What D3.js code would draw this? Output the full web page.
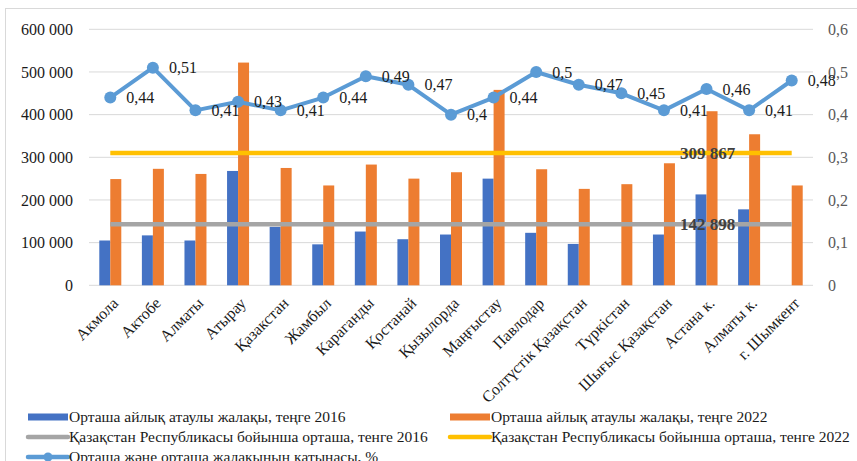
<!DOCTYPE html>
<html><head><meta charset="utf-8">
<script src="https://cdn.jsdelivr.net/npm/d3@7"></script>
<style>body{margin:0;background:#fff}svg{display:block}text{font-family:"Liberation Serif","Times New Roman",serif}</style>
</head><body><svg id="c" width="857" height="461"></svg>
<script>
const categories = ["Акмола","Актобе","Алматы","Атырау","Қазакстан","Жамбыл","Караганды","Қостанай","Қызылорда","Маңғыстау","Павлодар","Солтүстік Қазақстан","Түркістан","Шығыс Қазақстан","Астана к.","Алматы  к.","г. Шымкент"];
const wage2016 = [105000,117000,105000,268000,137000,96000,126000,108000,119000,250000,123000,97000,null,119000,213000,178000,null];
const wage2022 = [249000,273000,261000,522000,275000,234000,283000,250000,265000,458000,272000,226000,237000,286000,408000,354000,234000];
const ratio = [0.44,0.51,0.41,0.43,0.41,0.44,0.49,0.47,0.4,0.44,0.5,0.47,0.45,0.41,0.46,0.41,0.48];
const mean2016 = 142898;
const mean2022 = 309867;
const leftTicks = [0,100000,200000,300000,400000,500000,600000];
const rightTicks = [0,0.1,0.2,0.3,0.4,0.5,0.6];
const legendLabels = ["Орташа айлық атаулы жалақы, теңге 2016","Орташа айлық атаулы жалақы, теңге 2022","Қазақстан Республикасы бойынша орташа, тенге 2016","Қазақстан Республикасы бойынша орташа, тенге 2022","Орташа және орташа жалақының қатынасы, %"];

const C = {b:"#4472C4", o:"#ED7D31", g:"#A5A5A5", y:"#FFC000", l:"#5B9BD5", grid:"#D9D9D9"};
const svg = d3.select("#c");
const L = 89, R = 813, T = 29.3, B = 285.3;
const x = d3.scaleBand().domain(categories).range([L,R]).padding(0);
const bw = x.bandwidth();
const xs = d3.scaleBand().domain(["2016","2022"]).range([bw/2-11, bw/2+11]).padding(0);
const y = d3.scaleLinear().domain([0,600000]).range([B,T]);
const y2 = d3.scaleLinear().domain([0,0.6]).range([B,T]);
const loc = d3.formatLocale({decimal:",",thousands:" ",grouping:[3],currency:["",""]});
const fmtL = loc.format(",d");
const fmtR = v => v===0 ? "0" : String(+v.toFixed(2)).replace(".",",");

// border
svg.append("rect").attr("x",5.5).attr("y",8.5).attr("width",900).attr("height",600).attr("fill","none").attr("stroke","#D9D9D9");

// grid
svg.append("g").selectAll("line").data(leftTicks).join("line")
  .attr("x1",L).attr("x2",R).attr("y1",d=>y(d)).attr("y2",d=>y(d))
  .attr("stroke",C.grid).attr("stroke-width",1);

// left axis
const ga = svg.append("g").attr("transform",`translate(${L},0)`).call(d3.axisLeft(y).tickValues(leftTicks).tickFormat(fmtL).tickSize(0).tickPadding(16));
ga.select(".domain").remove();
ga.selectAll("text").attr("font-size",16).attr("fill","#1a1a1a");
// right axis
const gr = svg.append("g").attr("transform",`translate(${R},0)`).call(d3.axisRight(y2).tickValues(rightTicks).tickFormat(fmtR).tickSize(0).tickPadding(15));
gr.select(".domain").remove();
gr.selectAll("text").attr("font-size",16).attr("fill","#595959");

// bars
const bars = svg.append("g");
bars.selectAll(".b16").data(categories.map((c,i)=>({c,v:wage2016[i]})).filter(d=>d.v!=null)).join("rect")
  .attr("x",d=>x(d.c)+xs("2016")).attr("width",xs.bandwidth()).attr("y",d=>y(d.v)).attr("height",d=>y(0)-y(d.v)).attr("fill",C.b);
bars.selectAll(".b22").data(categories.map((c,i)=>({c,v:wage2022[i]}))).join("rect")
  .attr("x",d=>x(d.c)+xs("2022")).attr("width",xs.bandwidth()).attr("y",d=>y(d.v)).attr("height",d=>y(0)-y(d.v)).attr("fill",C.o);

// mean lines
const cx = c => x(c)+bw/2;
const x0 = cx(categories[0]), x1 = cx(categories[categories.length-1]);
[[mean2016,C.g],[mean2022,C.y]].forEach(([m,col])=>{
  svg.append("line").attr("x1",x0).attr("x2",x1).attr("y1",y(m)).attr("y2",y(m)).attr("stroke",col).attr("stroke-width",4.5);
});
[[mean2016],[mean2022]].forEach(([m])=>{
  svg.append("text").attr("x",cx(categories[14])+1).attr("y",y(m)).attr("dy","0.35em").attr("text-anchor","middle")
    .attr("font-size",17).attr("font-weight","bold").attr("fill","#404040").text(fmtL(m));
});

// ratio line
const line = d3.line().x((d,i)=>cx(categories[i])).y(d=>y2(d));
svg.append("path").datum(ratio).attr("d",line).attr("fill","none").attr("stroke",C.l).attr("stroke-width",4).attr("stroke-linejoin","round");
svg.append("g").selectAll("circle").data(ratio).join("circle")
  .attr("cx",(d,i)=>cx(categories[i])).attr("cy",d=>y2(d)).attr("r",6).attr("fill",C.l);
svg.append("g").selectAll("text").data(ratio).join("text")
  .attr("x",(d,i)=>cx(categories[i])+16).attr("y",d=>y2(d)).attr("dy","0.35em")
  .attr("font-size",16).attr("fill","#1a1a1a").text(d=>fmtR(d));

// x labels
svg.append("g").selectAll("text").data(categories).join("text")
  .attr("transform",c=>`translate(${cx(c)+5},${B+15}) rotate(-45)`)
  .attr("text-anchor","end").attr("dy","0.35em")
  .attr("font-size",16).attr("fill","#1a1a1a").text(c=>c);

// legend
const lg = svg.append("g");
const items = [
  {t:legendLabels[0],type:"rect",col:C.b,x:28,y:417},
  {t:legendLabels[1],type:"rect",col:C.o,x:450,y:417},
  {t:legendLabels[2],type:"line",col:C.g,x:28,y:437},
  {t:legendLabels[3],type:"line",col:C.y,x:450,y:437},
  {t:legendLabels[4],type:"marker",col:C.l,x:28,y:457}
];
items.forEach(it=>{
  if(it.type==="rect") lg.append("rect").attr("x",it.x).attr("y",it.y-3.5).attr("width",40).attr("height",7).attr("fill",it.col);
  else {
    lg.append("line").attr("x1",it.x).attr("x2",it.x+40).attr("y1",it.y).attr("y2",it.y).attr("stroke",it.col).attr("stroke-width",4.5).attr("stroke-linecap","round");
    if(it.type==="marker") lg.append("circle").attr("cx",it.x+20).attr("cy",it.y).attr("r",4.5).attr("fill",it.col);
  }
  lg.append("text").attr("x",it.x+41).attr("y",it.y).attr("dy","0.35em").attr("font-size",15.5).attr("fill","#1a1a1a").text(it.t);
});
</script></body></html>
